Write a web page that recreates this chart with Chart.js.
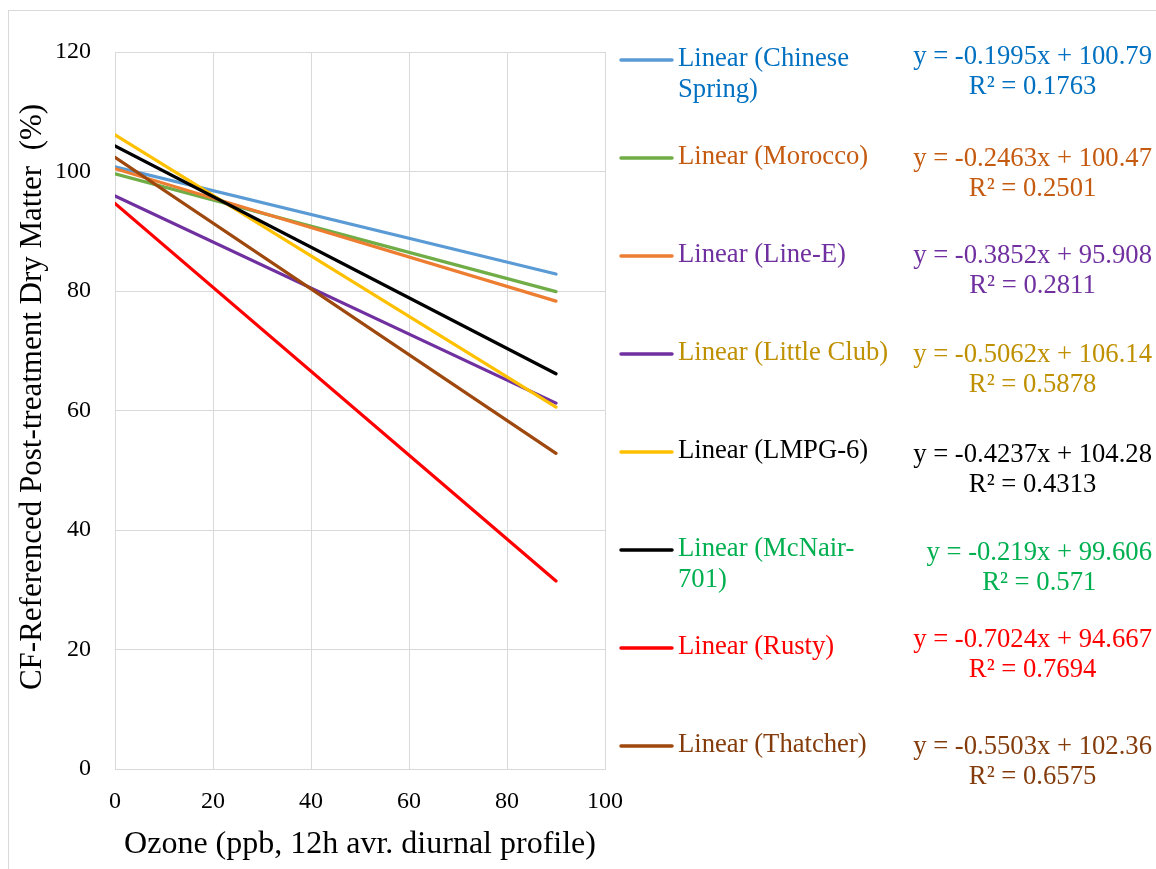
<!DOCTYPE html>
<html>
<head>
<meta charset="utf-8">
<script src="https://cdn.jsdelivr.net/npm/chart.js@4/dist/chart.umd.min.js"></script>
<style>
  html, body { margin: 0; padding: 0; background: #ffffff; }
  #wrap { width: 1156px; height: 869px; position: relative; }
</style>
</head>
<body>
<div id="wrap"><canvas id="chart" width="1156" height="869"></canvas></div>
<script>
// Fitted linear trends of dry matter vs. ozone, one row per legend entry
const cultivars = ['Chinese Spring', 'Morocco', 'Line-E', 'Little Club', 'LMPG-6', 'McNair-701', 'Rusty', 'Thatcher'];
const legendText = [
  ['Linear (Chinese', 'Spring)'],
  ['Linear (Morocco)'],
  ['Linear (Line-E)'],
  ['Linear (Little Club)'],
  ['Linear (LMPG-6)'],
  ['Linear (McNair-', '701)'],
  ['Linear (Rusty)'],
  ['Linear (Thatcher)']
];
const slopes     = [-0.1995, -0.2463, -0.3852, -0.5062, -0.4237, -0.219, -0.7024, -0.5503];
const intercepts = [100.79, 100.47, 95.908, 106.14, 104.28, 99.606, 94.667, 102.36];
const rSquared   = [0.1763, 0.2501, 0.2811, 0.5878, 0.4313, 0.571, 0.7694, 0.6575];
const ozoneSpan  = [0, 90];
const xTickValues = [0, 20, 40, 60, 80, 100];
const yTickValues = [0, 20, 40, 60, 80, 100, 120];
const xTitle = 'Ozone (ppb, 12h avr. diurnal profile)';
const yTitle = 'CF-Referenced Post-treatment Dry Matter  (%)';

// Styling
const FONT = "'Liberation Serif', 'Times New Roman', serif";
const lineColors   = ['#5B9BD5', '#ED7D31', '#7030A0', '#FFC000', '#000000', '#70AD47', '#FF0000', '#9E480E'];
const sampleColors = ['#5B9BD5', '#70AD47', '#ED7D31', '#7030A0', '#FFC000', '#000000', '#FF0000', '#9E480E'];
const textColors   = ['#0070C0', '#C55A11', '#7030A0', '#BF9000', '#000000', '#00B050', '#FF0000', '#843C0C'];
const stackRank    = [0, 2, 3, 4, 5, 1, 6, 7];
const GRID = '#d9d9d9';

const datasets = cultivars.map((name, i) => ({
  label: name,
  data: ozoneSpan.map(x => ({ x: x, y: intercepts[i] + slopes[i] * x })),
  showLine: true,
  borderColor: lineColors[i],
  backgroundColor: lineColors[i],
  borderWidth: 3.2,
  borderCapStyle: 'round',
  pointRadius: 0,
  pointHoverRadius: 0,
  order: -stackRank[i]
}));

// Outer frame, rotated y title, legend and equations
const decorations = {
  id: 'decorations',
  beforeDraw(chart) {
    const ctx = chart.ctx;
    ctx.save();
    ctx.fillStyle = '#ffffff';
    ctx.fillRect(0, 0, chart.width, chart.height);
    ctx.strokeStyle = GRID;
    ctx.lineWidth = 1;
    ctx.strokeRect(8.5, 10.5, chart.width + 50, chart.height + 50);
    ctx.restore();
  },
  afterDraw(chart) {
    const ctx = chart.ctx;
    ctx.save();
    // y-axis title
    ctx.font = '31px ' + FONT;
    ctx.fillStyle = '#000000';
    ctx.textAlign = 'center';
    ctx.textBaseline = 'middle';
    ctx.translate(33, 397);
    ctx.rotate(-Math.PI / 2);
    ctx.fillText(yTitle, 0, 0);
    ctx.restore();

    // legend
    const rowY = [59, 157, 255, 353, 451, 549, 647, 745];
    const eqY  = [57, 159, 256, 355, 455, 553, 640, 747];
    const wrapLead = 31, eqLead = 30;
    const sampleX0 = 621, sampleX1 = 672, textX = 678, eqRight = 1152;
    ctx.save();
    ctx.font = '26.67px ' + FONT;
    ctx.textBaseline = 'middle';
    cultivars.forEach((name, i) => {
      ctx.strokeStyle = sampleColors[i];
      ctx.lineWidth = 3.5;
      ctx.lineCap = 'round';
      ctx.beginPath();
      ctx.moveTo(sampleX0, rowY[i] + 1);
      ctx.lineTo(sampleX1, rowY[i] + 1);
      ctx.stroke();
      ctx.fillStyle = textColors[i];
      ctx.textAlign = 'left';
      legendText[i].forEach((t, k) => ctx.fillText(t, textX, rowY[i] + k * wrapLead));

      const eqLines = ['y = ' + slopes[i] + 'x + ' + intercepts[i], 'R\u00B2 = ' + rSquared[i]];
      const blockW = Math.max(...eqLines.map(t => ctx.measureText(t).width));
      const cx = eqRight - blockW / 2;
      ctx.textAlign = 'center';
      eqLines.forEach((t, k) => ctx.fillText(t, cx, eqY[i] + k * eqLead));
    });
    ctx.restore();
  }
};

new Chart(document.getElementById('chart'), {
  type: 'scatter',
  data: { datasets: datasets },
  plugins: [decorations],
  options: {
    responsive: false,
    animation: false,
    events: [],
    layout: { padding: { top: 52, right: 551, bottom: 0, left: 0 } },
    plugins: { legend: { display: false }, tooltip: { enabled: false } },
    scales: {
      x: {
        type: 'linear',
        min: 0, max: 100,
        afterFit(scale) { scale.height = 100; },
        afterBuildTicks(scale) { scale.ticks = xTickValues.map(v => ({ value: v })); },
        ticks: { color: '#000000', font: { family: FONT, size: 24 }, padding: 18, maxRotation: 0 },
        grid: { color: GRID, lineWidth: 1, drawTicks: false },
        border: { color: GRID, width: 1 },
        title: { display: true, text: xTitle, color: '#000000', font: { family: FONT, size: 32 }, padding: { top: 0, bottom: 5 } }
      },
      y: {
        type: 'linear',
        min: 0, max: 120,
        afterFit(scale) { scale.width = 115; },
        afterBuildTicks(scale) { scale.ticks = yTickValues.map(v => ({ value: v })); },
        ticks: { color: '#000000', font: { family: FONT, size: 24 }, padding: 24 },
        grid: { color: GRID, lineWidth: 1, drawTicks: false },
        border: { color: GRID, width: 1 }
      }
    }
  }
});
</script>
</body>
</html>
